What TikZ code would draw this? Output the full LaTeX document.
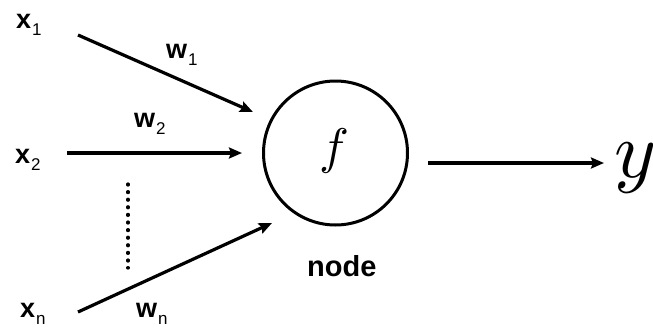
\documentclass[tikz,border=0pt]{standalone}
\usepackage{fontspec}
\usepackage{unicode-math}
\setmainfont{Liberation Sans}
\setmathfont{Latin Modern Math}
\usetikzlibrary{arrows.meta}
\tikzset{
  lbl/.style={anchor=base west, inner sep=0pt, font=\fontsize{27}{27}\selectfont\bfseries},
  conn/.style={line width=3.2pt, -{Stealth[length=13pt,width=11pt,inset=2pt]}},
  neuron/.style={circle, draw, line width=3pt, minimum size=144pt, inner sep=0pt},
}
\newcommand{\subsc}[1]{\hspace{1pt}\raisebox{-7pt}{\fontsize{17}{17}\selectfont\mdseries #1}}
\begin{document}
\begin{tikzpicture}[x=1pt,y=-1pt]
\useasboundingbox (0,0) rectangle (653,327);
% labels
\node[lbl] (x1) at (16,28) {x\subsc{1}};
\node[lbl] (x2) at (15,163) {x\subsc{2}};
\node[lbl] (xn) at (20,317) {x\subsc{n}};
\node[lbl] (w1) at (166,58) {w\subsc{1}};
\node[lbl] (w2) at (134,127) {w\subsc{2}};
\node[lbl] (wn) at (136,317) {w\subsc{n}};
\node[lbl, font=\fontsize{29}{29}\selectfont\bfseries] (nl) at (307,276) {node};
% neuron
\node[neuron] (f) at (335.5,153) {};
\node[inner sep=0pt] (fl) at (334,151) {\fontsize{50}{50}\selectfont$f$};
\node[anchor=base west, inner sep=0pt] (y) at (614,177) {\fontsize{80}{80}\selectfont$y$};
% arrow ends
\coordinate (s1) at (78,35);   \coordinate (t1) at (253,112);
\coordinate (s2) at (67,153);  \coordinate (t2) at (242,153);
\coordinate (sn) at (78,312);  \coordinate (tn) at (272,223);
\coordinate (so) at (428,163); \coordinate (to) at (604,163);
\coordinate (d1) at (128,184); \coordinate (d2) at (128,268);
\draw[conn] (s1) -- (t1);
\draw[conn] (s2) -- (t2);
\draw[conn] (sn) -- (tn);
\draw[conn] (so) -- (to);
\draw[line width=3.2pt, line cap=round, dash pattern=on 1pt off 6.6pt] (d1) -- (d2);
\end{tikzpicture}
\end{document}
